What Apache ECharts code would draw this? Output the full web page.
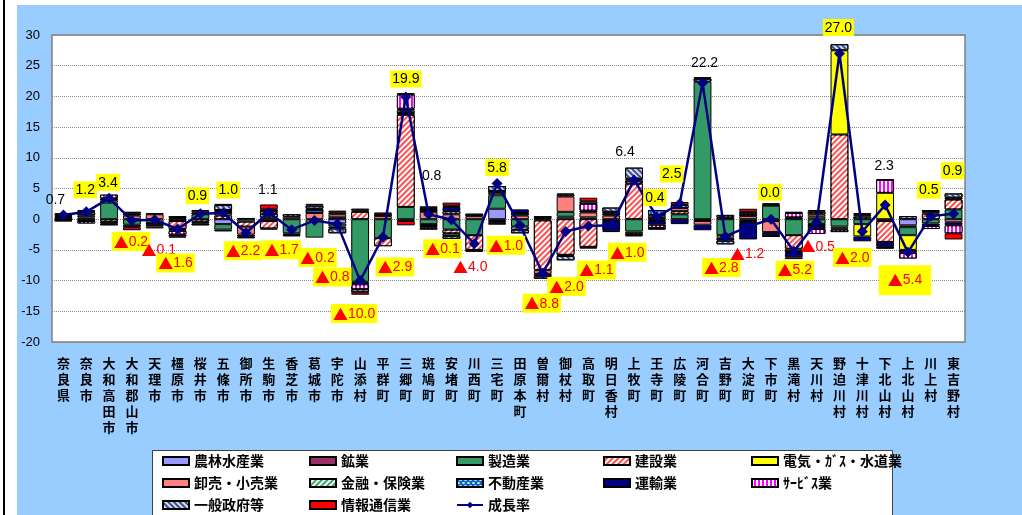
<!DOCTYPE html>
<html>
<head>
<meta charset="utf-8">
<script src="https://cdn.jsdelivr.net/npm/echarts@6/dist/echarts.min.js"></script>
<style>
  html, body { margin: 0; padding: 0; background: #fff; }
  #edge { position: absolute; left: 3px; top: 0; width: 2px; height: 515px; background: #000; }
  #chart { position: absolute; left: 17px; top: 5px; width: 1005px; height: 510px; background: #99CCFF; }
</style>
</head>
<body>
<div id="edge"></div>
<div id="chart"></div>
<script>
// 市町村
const categories = ['奈良県', '奈良市', '大和高田市', '大和郡山市', '天理市', '橿原市', '桜井市', '五條市', '御所市', '生駒市',
  '香芝市', '葛城市', '宇陀市', '山添村', '平群町', '三郷町', '斑鳩町', '安堵町', '川西町', '三宅町',
  '田原本町', '曽爾村', '御杖村', '高取町', '明日香村', '上牧町', '王寺町', '広陵町', '河合町', '吉野町',
  '大淀町', '下市町', '黒滝村', '天川村', '野迫川村', '十津川村', '下北山村', '上北山村', '川上村', '東吉野村'];

// 成長率 (%)
const growth = [0.7, 1.2, 3.4, -0.2, -0.1, -1.6, 0.9, 1.0, -2.2, 1.1,
  -1.7, -0.2, -0.8, -10.0, -2.9, 19.9, 0.8, -0.1, -4.0, 5.8,
  -1.0, -8.8, -2.0, -1.1, -1.0, 6.4, 0.4, 2.5, 22.2, -2.8,
  -1.2, 0.0, -5.2, -0.5, 27.0, -2.0, 2.3, -5.4, 0.5, 0.9];

// 産業別寄与度
const agri = [0.05, 0, 0, 0, 0, 0, 0, -0.8, 0, 0,
  0, 0, -0.7, 0, 0, 0, 0, 0, 0, 1.7,
  0, 0.2, 0.4, 0, 0, 0, 0, 0, 0, 0,
  0, 0, 0, 0, 0, 0, 0, -1.0, 0, 0];
const mining = [0, 0, 0, 0, 0, 0, 0, 0, 0, 0,
  0, 0, 0, 0, 0, 0, 0, 0, 0, -0.3,
  0, 0, 0, 0, 0, 0, 0, 0, 0, 0,
  0, 0, 0, 0, 0, 0, 0, -0.3, 0, 0];
const manuf = [0.3, 0.3, 2.7, -0.9, -0.6, -0.3, 0.8, -0.9, -0.4, -0.3,
  -2.3, -3.0, -0.5, -10.2, -3.1, 2.0, -0.8, -1.7, -2.6, 2.2,
  -1.2, -0.2, 0.8, 0.3, 0, -2.0, -0.3, 0.8, 22.4, -2.6,
  -0.3, 2.2, -2.6, -0.8, -1.2, -0.8, -0.3, -1.3, -0.7, 1.6];
const constr = [-0.2, -0.3, -0.4, 0, -0.3, -1.3, -0.4, 0.6, -0.8, -1.2,
  0, 0, 0.3, 1.2, -1.3, 15.0, -0.3, -0.6, -2.4, 0,
  -0.5, -8.1, -5.8, -4.5, -0.3, 5.8, 0.3, 0.5, -0.3, 0,
  -0.3, -0.3, -2.2, -0.3, 13.8, 0.4, -3.4, 0, 0.9, 1.6];
const util = [0, 0, 0, 0, 0, 0, 0, 0, 0, 0,
  0, 0, 0, 0, 0, 0, 0, 0, 0, 0,
  0, 0, 0, 0, 0, 0, 0, 0, 0, -0.4,
  0, 0, 0, 0.4, 13.7, -2.0, 4.3, -2.4, 0, 0];
const trade = [0.1, 0.3, 0.4, 0.6, 0.8, 0.2, 0, 0.4, -1.3, 0.3,
  0.4, 1.0, 0.5, 0.2, 0.5, -0.3, 1.2, 0.8, 0.5, 0.4,
  0.6, -0.6, 2.5, 0.8, 0.6, -0.3, 0.4, 0.5, -0.6, 0,
  0.5, -1.8, -0.4, 0.4, -0.3, 0.3, 0, 0, 0.3, -0.5];
const finance = [0, 0, -0.3, 0, 0, 0, 0, 0, 0, 0,
  0, 0, 0, 0, 0, 0.3, 0, -0.4, 0, 0,
  0, 0, 0, 0, 0, 0, 0, 0, 0, 0,
  0, 0, -0.3, 0, 0, 0, 0, 0, 0, 0];
const realty = [0.2, 0.5, 0.3, 0.3, 0.2, 0.3, 0.3, 0.3, 0.2, 0.6,
  0.4, 0.5, 0.3, 0.3, 0.3, 0.4, 0.3, 0.5, 0.4, 0.3,
  0.4, 0.3, 0.3, 0.3, 0.3, 0.5, 0.8, 0.5, 0.5, 0.3,
  0.4, 0.2, 0.3, 0.4, 0, 0, 0, 0, 0.3, 0.3];
const transport = [0, 0, 0, -0.4, -0.3, -0.3, -0.3, -0.3, -0.3, -0.2,
  -0.3, 0, -0.3, -0.4, 0, 0.3, -0.3, 0.7, 0, -0.3,
  0.6, -0.4, -0.2, -0.3, -1.6, 0.3, -0.6, -0.8, -0.9, -0.5,
  -2.7, -0.5, -0.7, -0.5, -0.2, -0.8, -0.8, -0.5, -0.4, -0.5];
const service = [0.2, -0.4, 0.6, 0, 0, -0.6, 0, 0.2, 0, 0.4,
  0, 0.2, 0, -0.8, 0, 2.3, -0.3, 0.2, 0, 0,
  0, 0, 0, 1.1, 0.3, -0.3, -0.5, 0, 0, 0.4,
  0.3, 0, 0.7, -0.8, -0.4, 0, 2.1, -0.9, -0.5, -1.3];
const govt = [-0.1, 0.2, -0.3, 0.3, 0, -0.3, -0.3, 0.8, -0.3, 0.3,
  0, 0.5, -0.8, -0.5, 0, 0.2, 0.3, -0.5, -0.3, 0.8,
  -0.6, -0.4, -0.7, 0.4, 0.7, 1.8, -0.3, 0, 0.2, -0.6,
  0, -0.3, 0.2, 0, 1.0, 0, -0.3, 0.5, 0, 0.7];
const ict = [0.05, 0.2, 0, -0.5, -0.3, -0.2, 0.4, 0.2, 0, 0.8,
  -0.2, 0.3, 0.3, -0.4, 0.3, -0.7, 0.3, 0.5, 0, -0.3,
  0, 0, 0.2, 0.6, -0.2, -0.2, 0, 0.5, 0, 0,
  0.5, 0.2, -0.3, 0.3, 0, 0.3, 0.1, 0, 0, -1.0];

const yTicks = [-20, -15, -10, -5, 0, 5, 10, 15, 20, 25, 30];

// ラベル配置の微調整 [dx, dy] と 黄色枠なしの番号
const labelShift = [[-8, -15], [-1, -22], [-1, -16], [-1, 21], [4, 30], [-2, 34], [-3, -18], [5, -23], [-3, 18], [-1, -23],
  [-10, 20], [3, 37], [-5, 53], [-6, 33], [12, 30], [0, -18], [3, -39], [-9, 29], [-4, 23], [0, -16],
  [-14, 20], [-1, 30], [1, 55], [8, 44], [16, 27], [-9, -28], [-2, -19], [-8, -30], [2, -20], [-4, 31],
  [-1, 27], [-1, -27], [1, 19], [1, 24], [-1, -26], [-10, 26], [-1, -39], [-3, 28], [-2, -26], [-1, -43]];
const plainLabel = [0, 4, 9, 16, 18, 25, 28, 30, 33, 36];

const JP = '"Noto Sans CJK JP", sans-serif';
const NUM = '"Liberation Sans", Arial, sans-serif';
const stripe = (color, rot) => ({ symbol: 'rect', symbolSize: 1, dashArrayX: [1, 0], dashArrayY: [2, 2], rotation: rot, color: color });

const industries = [
  { name: '農林水産業', data: agri, color: '#9999FF' },
  { name: '鉱業', data: mining, color: '#993366' },
  { name: '製造業', data: manuf, color: '#339966' },
  { name: '建設業', data: constr, color: '#FF5050', decal: stripe('#ffffff', -Math.PI / 4) },
  { name: '電気・ｶﾞｽ・水道業', data: util, color: '#FFFF00' },
  { name: '卸売・小売業', data: trade, color: '#FF8080' },
  { name: '金融・保険業', data: finance, color: '#FFFFFF', decal: stripe('#33AA66', -Math.PI / 4) },
  { name: '不動産業', data: realty, color: '#0066CC',
    decal: { symbol: 'rect', symbolSize: 0.8, dashArrayX: [[3, 2], [0, 2, 3, 0]], dashArrayY: [2, 1], color: '#ffffff' } },
  { name: '運輸業', data: transport, color: '#000080' },
  { name: 'ｻｰﾋﾞｽ業', data: service, color: '#FF00FF',
    decal: { symbol: 'rect', symbolSize: 1, dashArrayX: [2, 2], dashArrayY: [1, 0], color: '#ffffff' } },
  { name: '一般政府等', data: govt, color: '#D8DEF0', decal: stripe('#3A4E88', Math.PI / 4) },
  { name: '情報通信業', data: ict, color: '#FF0000' }
];

const barSeries = industries.map(s => ({
  name: s.name,
  type: 'bar',
  stack: 'total',
  barWidth: '78%',
  data: s.data.map(v => (v === 0 ? '-' : v)),
  itemStyle: { color: s.color, borderColor: '#000', borderWidth: 1, decal: s.decal || null },
  emphasis: { disabled: true }
}));

const lineData = growth.map((v, i) => {
  const boxed = plainLabel.indexOf(i) < 0;
  return {
    value: v,
    label: {
      offset: labelShift[i],
      color: v < 0 ? '#FF0000' : '#000',
      backgroundColor: boxed ? '#FFFF00' : 'transparent',
      padding: i === 37 ? [7, 9] : [2, 2, 1, 2]
    }
  };
});

const legendCols = [
  ['農林水産業', '卸売・小売業', '一般政府等'],
  ['鉱業', '金融・保険業', '情報通信業'],
  ['製造業', '不動産業', '成長率'],
  ['建設業', '運輸業'],
  ['電気・ｶﾞｽ・水道業', 'ｻｰﾋﾞｽ業']
];
const colX = [145, 292, 439, 586, 734];

const chart = echarts.init(document.getElementById('chart'));
chart.setOption({
  animation: false,
  textStyle: { fontFamily: JP },
  graphic: [{
    type: 'rect', left: 135, top: 445, z: 0,
    shape: { width: 740, height: 80 },
    style: { fill: '#fff', stroke: '#404040', lineWidth: 1 }
  }],
  legend: legendCols.map((col, c) => ({
    orient: 'vertical',
    left: colX[c],
    top: 448,
    padding: 0,
    itemGap: 6,
    itemWidth: 26,
    itemHeight: 8,
    selectedMode: false,
    textStyle: { fontFamily: JP, fontSize: 14, fontWeight: 'bold', color: '#000', lineHeight: 16 },
    data: col.map(n => (n === '成長率' ? { name: n } : { name: n, icon: 'rect' }))
  })),
  grid: {
    left: 35, right: 57, top: 30, bottom: 173,
    show: true, backgroundColor: '#fff', borderColor: '#808080', borderWidth: 1.5
  },
  xAxis: {
    type: 'category',
    data: categories,
    axisLine: { show: false, onZero: false },
    axisTick: { show: false },
    axisLabel: {
      interval: 0,
      margin: 13,
      fontFamily: JP,
      fontSize: 13,
      fontWeight: 'bold',
      lineHeight: 16,
      color: '#000',
      formatter: v => v.split('').join('\n')
    }
  },
  yAxis: {
    type: 'value',
    min: yTicks[0],
    max: yTicks[yTicks.length - 1],
    interval: 5,
    axisLine: { show: false },
    axisTick: { show: false },
    axisLabel: { fontFamily: NUM, fontSize: 13, color: '#000', margin: 12 },
    splitLine: { lineStyle: { type: 'dotted', color: '#888', width: 1 } }
  },
  series: barSeries.concat([{
    name: '成長率',
    type: 'line',
    data: lineData,
    z: 5,
    symbol: 'diamond',
    symbolSize: 11,
    lineStyle: { color: '#000080', width: 2.5 },
    itemStyle: { color: '#000080' },
    label: {
      show: true,
      position: 'inside',
      fontFamily: NUM,
      fontSize: 14,
      formatter: p => (p.value < 0 ? '{t|▲}' + Math.abs(p.value).toFixed(1) : p.value.toFixed(1)),
      rich: { t: { fontFamily: JP, fontSize: 15, color: '#FF0000', lineHeight: 16 } }
    },
    emphasis: { disabled: true }
  }])
});
</script>
</body>
</html>
